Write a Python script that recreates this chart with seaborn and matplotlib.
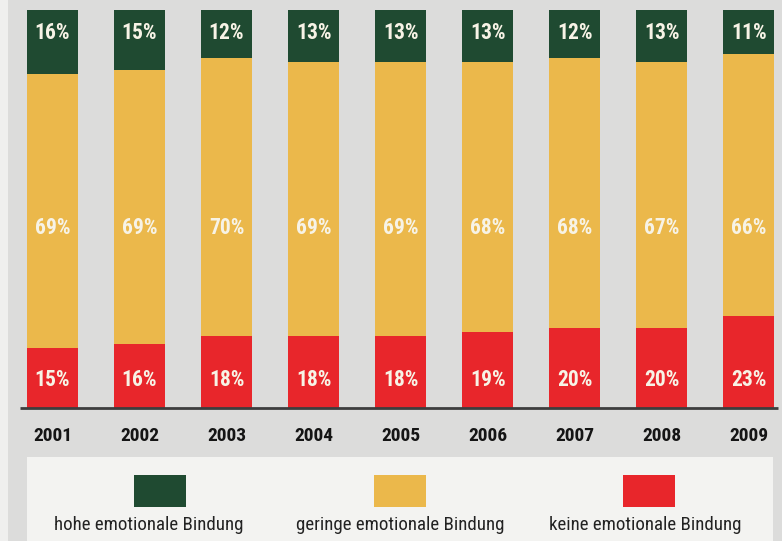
import matplotlib
matplotlib.use("Agg")
import matplotlib.pyplot as plt
from matplotlib import font_manager
from matplotlib.patches import Rectangle
import seaborn as sns
import pandas as pd

years = ['2001', '2002', '2003', '2004', '2005', '2006', '2007', '2008', '2009']
hohe = [16, 15, 12, 13, 13, 13, 12, 13, 11]
geringe = [69, 69, 70, 69, 69, 68, 68, 67, 66]
keine = [15, 16, 18, 18, 18, 19, 20, 20, 23]
legend_labels = ['hohe emotionale Bindung', 'geringe emotionale Bindung',
                 'keine emotionale Bindung']

GREEN = '#1f4a31'
YELLOW = '#ebb84b'
RED = '#e8262b'
BG = '#dcdcdb'

sns.set_theme(style='white')
names = {f.name for f in font_manager.fontManager.ttflist}
fam = 'Liberation Sans'
for cand in ['Liberation Sans Narrow', 'Roboto Condensed', 'Open Sans Condensed']:
    if cand in names:
        fam = cand
        break
plt.rcParams['font.family'] = [fam, 'DejaVu Sans']

df = pd.DataFrame({'year': years, 'hohe': hohe, 'geringe': geringe, 'keine': keine})
df['total'] = df['hohe'] + df['geringe'] + df['keine']
df['lower'] = df['geringe'] + df['keine']

W, H = 782, 541
fig = plt.figure(figsize=(W / 100, H / 100), dpi=100)
fig.patch.set_facecolor(BG)

# light strip on the left edge and legend panel
fig.patches.append(Rectangle((0, 0), 8 / W, 1, transform=fig.transFigure,
                             facecolor='#efefee', edgecolor='none', zorder=0))
fig.patches.append(Rectangle((27 / W, 0), (773 - 27) / W, (541 - 457) / H,
                             transform=fig.transFigure, facecolor='#f3f3f1',
                             edgecolor='none', zorder=0))

ax = fig.add_axes([0, (H - 408) / H, 1, (408 - 10) / H])
ax.set_facecolor('none')
bw = 51 / 87.06
bar_kw = dict(width=bw, saturation=1, edgecolor='none', linewidth=0, ax=ax)
sns.barplot(data=df, x='year', y='total', color=GREEN, **bar_kw)
sns.barplot(data=df, x='year', y='lower', color=YELLOW, **bar_kw)
sns.barplot(data=df, x='year', y='keine', color=RED, **bar_kw)
ax.set_xlim(-52.5 / 87.06, (W - 52.5) / 87.06)
ax.set_ylim(0, 100)
for s in ax.spines.values():
    s.set_visible(False)
ax.set_xlabel('')
ax.set_ylabel('')
ax.set_yticks([])
ax.tick_params(axis='x', length=0, pad=14)
ax.set_xticks(range(len(years)))
ax.set_xticklabels(years, fontsize=14, fontweight='bold', color='#151515')
ax.plot([20 / 87.06 - 52.5 / 87.06, (778 - 52.5) / 87.06], [0, 0],
        color='#3d3d3d', lw=2, clip_on=False, solid_capstyle='butt')

lab = dict(ha='center', va='center', fontsize=15.5, fontweight='bold', color='#f7f3e6')
for i in range(len(years)):
    ax.text(i, 94.2, f'{hohe[i]}%', **lab)
    ax.text(i, 45.2, f'{geringe[i]}%', **lab)
    ax.text(i, 7.0, f'{keine[i]}%', **lab)

# legend
sq_x = [160, 400, 649]
txt_x = [149, 400, 645]
for cx, tx, col, txt in zip(sq_x, txt_x, [GREEN, YELLOW, RED], legend_labels):
    fig.patches.append(Rectangle(((cx - 26) / W, (H - 507) / H), 52 / W, 32 / H,
                                 transform=fig.transFigure, facecolor=col,
                                 edgecolor='none'))
    fig.text(tx / W, (H - 525) / H, txt, ha='center', va='center',
             fontsize=13.6, color='#222222')

fig.savefig('out.png', dpi=100, facecolor=BG)
